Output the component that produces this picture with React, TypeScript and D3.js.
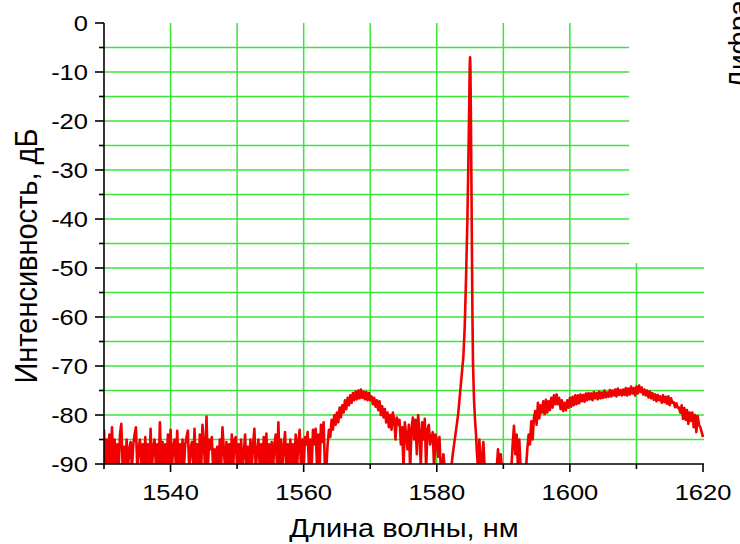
import React from "react";
import * as d3 from "d3";

const width = 740;
const height = 544;
const margin = { top: 23, right: 36, bottom: 80, left: 104 };

// spectrum samples, 0.2 nm apart
const startA = 1530;
const startB = 1586;
const stepNm = 0.2;

const levelsA = [
  -83, -91, -85, -90, -84, -91, -82.5, -90.5, -85, -91,
  -86, -91, -84, -81.8, -90.5, -86.5, -91, -85, -91, -87,
  -85.5, -91, -86, -84, -82.5, -91, -87, -85, -90.5, -86,
  -91, -84.5, -90, -86, -91, -82.8, -91, -86.5, -85, -90.5,
  -86, -91, -81.5, -90, -85.5, -91, -86, -90.5, -84, -91,
  -83, -91, -86.5, -85, -90.5, -83.2, -91, -86, -90, -85,
  -91, -86, -84.5, -83.2, -91, -87, -85.5, -90.5, -82.8, -91,
  -86, -90.5, -84, -91, -82, -86, -91, -80.3, -91, -85,
  -87, -84.5, -91, -87, -90.5, -86.5, -91, -85, -91, -82.5,
  -87, -91, -85.5, -90.5, -86, -91, -84, -91, -85, -84.5,
  -91, -86, -90, -85, -91, -88, -84, -91, -86.5, -90.5,
  -85, -91, -86, -82.8, -91, -87.5, -85, -90.5, -86, -91,
  -84.5, -90.5, -83.8, -91, -86, -90.5, -85.5, -91, -86, -84,
  -91, -81.5, -90.5, -85, -91, -86.5, -83.5, -91, -86, -90.5,
  -85, -91, -86, -90, -84, -91, -85.5, -83, -91, -85,
  -91, -84.5, -86, -83.5, -91, -85, -91, -83, -86, -82.8,
  -90.5, -84, -91, -82, -85.5, -81.5, -91, -91, -86, -83,
  -84.5, -81, -83, -80, -82, -79.5, -81.5, -78.5, -80.5, -78,
  -79.5, -77, -78.8, -76.5, -78, -76, -77.5, -75.5, -77, -75.2,
  -76.8, -75, -76.6, -74.8, -76.5, -75.2, -76.8, -75.3, -77, -75.5,
  -77, -76.2, -77.8, -76.5, -78.3, -77, -79, -77.2, -80, -78.2,
  -80.5, -78.8, -81.5, -79.5, -82.5, -80, -83, -79.5, -81, -85,
  -80.5, -82, -81, -86, -82.5, -91, -81.5, -84, -87, -82,
  -91, -83, -80.5, -85, -81, -88, -80, -83.5, -90.5, -81.5,
  -85, -80.8, -91, -83, -82, -86, -84.5, -83.5, -91, -84,
  -85, -88.5, -84.5, -91, -91, -88, -91, -91, -91, -91,
  -91, -90.5, -88,
];

// laser line
const peakNm = [
  1582.6, 1582.8, 1583.0, 1583.2, 1583.4, 1583.6, 1583.8, 1584.0, 1584.2, 1584.4,
  1584.6, 1584.75, 1584.88, 1584.95, 1585.0, 1585.05, 1585.12, 1585.2, 1585.28, 1585.36,
  1585.45, 1585.6, 1585.75, 1585.9,
];
const peakDb = [
  -86, -84, -82, -80, -77, -74, -71, -68, -62, -52,
  -40, -28, -16, -9, -7, -9, -18, -32, -46, -60,
  -70, -77, -81, -84,
];

const levelsB = [
  -87, -91, -85, -91, -89, -85.5, -91, -91, -91, -91,
  -91, -91, -91, -91, -91, -91, -87, -91, -88, -91,
  -91, -91, -91, -91, -91, -91, -91, -86, -82.2, -88,
  -84, -91, -85, -91, -91, -91, -91, -91, -87, -84,
  -86, -81.3, -85, -80.5, -79.2, -82, -77.5, -80.7, -78, -79.5,
  -77.2, -79.8, -76.9, -79.5, -77.2, -79, -76.5, -78.5, -76, -77.8,
  -75.8, -77.8, -76.5, -78.8, -77, -79.2, -77.5, -79, -77, -78.5,
  -76.5, -78.3, -76.3, -78, -76, -77.8, -76, -77.6, -75.8, -77.2,
  -75.9, -77.3, -75.6, -77, -75.5, -76.8, -75.6, -77, -75.3, -76.6,
  -75.5, -76.8, -75.2, -76.6, -75.4, -76.5, -75, -76.4, -75.4, -76.3,
  -74.9, -76.2, -75, -76, -74.8, -76.2, -74.6, -75.9, -74.9, -76,
  -74.8, -75.9, -74.5, -76, -74.6, -75.8, -74.2, -75.6, -74.5, -76,
  -74.2, -75.6, -74, -75.3, -74.4, -75.8, -74.8, -76, -75, -76.4,
  -75.2, -76.6, -75.5, -76.9, -75.8, -77.2, -75.9, -77, -76.2, -77.5,
  -76, -77.4, -76.3, -77.7, -76.2, -78, -76.6, -77.5, -77.4, -78.4,
  -77.6, -78.5, -78.5, -79.5, -78, -80.8, -78.6, -81, -79, -81.8,
  -79.5, -81.2, -79.5, -82.5, -80, -83.5, -80.2, -82, -82.5, -83.5,
  -84.5,
];

const xMajor = [1540, 1560, 1580, 1600, 1620];
const xMinor = [1530, 1550, 1570, 1590, 1610];
const xGrid = [1540, 1550, 1560, 1570, 1580, 1590, 1600, 1610];
const yMajor = [0, -10, -20, -30, -40, -50, -60, -70, -80, -90];
const yMinor = [-5, -15, -25, -35, -45, -55, -65, -75, -85];
const yGrid = [-5, -10, -15, -20, -25, -30, -35, -40, -45, -50, -55, -60, -65, -70, -75, -80, -85];

const xTitle = "Длина волны, нм";
const yTitle = "Интенсивность, дБ";
const sideText = "Дифракционный спектр";

const font = "'Liberation Sans', Arial, sans-serif";
const stretch = 1.16;
const green = "#3be63b";

export default function App() {
  const x = d3.scaleLinear().domain([1530, 1620]).range([margin.left, width - margin.right - 1]);
  const y = d3.scaleLinear().domain([-90, 0]).range([height - margin.bottom, margin.top]);

  const points: [number, number][] = [
    ...levelsA.map((v, i) => [startA + i * stepNm, v] as [number, number]),
    ...peakNm.map((n, i) => [n, peakDb[i]] as [number, number]),
    ...levelsB.map((v, i) => [startB + i * stepNm, v] as [number, number]),
  ];

  const line = d3.line<[number, number]>()
    .x(d => x(d[0]))
    .y(d => y(d[1]));

  const x0 = x(1530), x1 = x(1620) + 1;
  const yTop = y(0), yBot = y(-90);

  return (
    <svg width={width} height={height} style={{ position: "absolute", left: 0, top: 0 }}>
      <rect width={width} height={height} fill="#fff" />
      <defs>
        <clipPath id="plot">
          <rect x={x0} y={0} width={x1 - x0} height={yBot} />
        </clipPath>
      </defs>

      {/* grid */}
      {xGrid.map(v => (
        <line key={"gx" + v} x1={x(v)} x2={x(v)} y1={yTop} y2={yBot} stroke={green} strokeWidth={1.5} />
      ))}
      {yGrid.map(v => (
        <line key={"gy" + v} x1={x0} x2={x1} y1={y(v)} y2={y(v)} stroke={green} strokeWidth={1.5} />
      ))}
      {/* blank corner where the legend was cut away */}
      <rect x={x(1608.9)} y={0} width={width - x(1608.9)} height={y(-49)} fill="#fff" />

      <path d={line(points) ?? ""} fill="none" stroke="#f00000" strokeWidth={2.6} strokeLinejoin="round" clipPath="url(#plot)" />

      {/* axes */}
      <line x1={x0} x2={x0} y1={yTop} y2={yBot} stroke="#000" strokeWidth={1.6} />
      <line x1={x0} x2={x1} y1={yBot} y2={yBot} stroke="#000" strokeWidth={1.6} />
      {yMajor.map(v => (
        <g key={"ym" + v}>
          <line x1={x0 - 9} x2={x0} y1={y(v)} y2={y(v)} stroke="#000" strokeWidth={1.6} />
          <text transform={`translate(${x0 - 16},${y(v)}) scale(${stretch},1)`} dy="0.36em" textAnchor="end"
            fontFamily={font} fontSize={22}>{v}</text>
        </g>
      ))}
      {yMinor.map(v => (
        <line key={"yn" + v} x1={x0 - 5} x2={x0} y1={y(v)} y2={y(v)} stroke="#000" strokeWidth={1.6} />
      ))}
      {xMajor.map(v => (
        <g key={"xm" + v}>
          <line x1={x(v)} x2={x(v)} y1={yBot} y2={yBot + 8} stroke="#000" strokeWidth={1.6} />
          <text transform={`translate(${x(v)},${yBot + 36}) scale(${stretch},1)`} textAnchor="middle"
            fontFamily={font} fontSize={22}>{v}</text>
        </g>
      ))}
      {xMinor.map(v => (
        <line key={"xn" + v} x1={x(v)} x2={x(v)} y1={yBot} y2={yBot + 5} stroke="#000" strokeWidth={1.6} />
      ))}

      <text transform={`translate(${(x0 + x1) / 2},537) scale(${stretch},1)`} textAnchor="middle"
        fontFamily={font} fontSize={25}>{xTitle}</text>
      <text transform={`translate(37,256) scale(1.1,1) rotate(-90)`} textAnchor="middle"
        fontFamily={font} fontSize={29}>{yTitle}</text>
      <text transform={`translate(748,89) rotate(-90)`} textAnchor="start"
        fontFamily={font} fontSize={28}>{sideText}</text>
    </svg>
  );
}
